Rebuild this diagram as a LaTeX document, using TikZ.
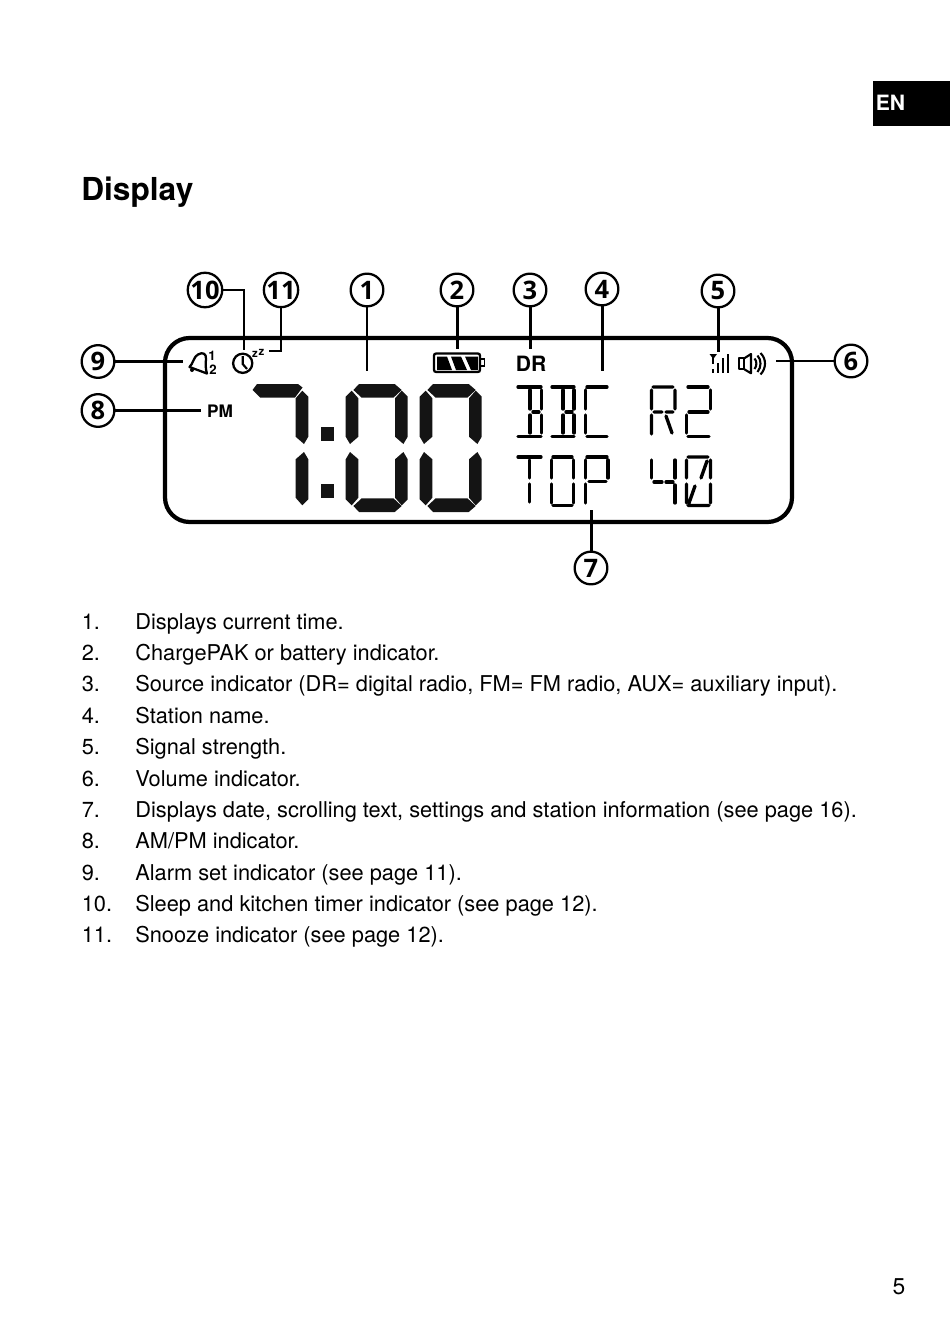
\documentclass[tikz,border=0pt]{standalone}
\usepackage{fontspec}
\setmainfont{TeX Gyre Heros}
\newfontfamily\callfont{Open Sans}
\tikzset{
  callout/.style={draw, circle, minimum size=18.6pt, inner sep=0pt, line width=1.3pt, font=\callfont\fontsize{14.5}{16}\selectfont\bfseries},
  lead/.style={line width=1.7pt},
  item/.style={anchor=base west, inner sep=0pt, font=\fontsize{12.4}{15}\selectfont},
  seg/.style={line width=1.9pt, line cap=round},
  vseg/.pic={\fill[black!92] (6,6.7)--(12.7,14.3)--(12.7,52.7)--(4.3,60)--(0,52.7)--(0,12.7)--cycle;},
  hseg/.pic={\fill[black!92] (7.7,6)--(13.3,0)--(49,0)--(56,6)--(47.7,13.7)--(16,13.7)--cycle;}
}
\begin{document}
\begin{tikzpicture}[x=0.02cm, y=-0.02cm]
\useasboundingbox (0,0) rectangle (950,1338);
% tab and heading
\fill[black] (873,81) rectangle (950,126);
\node[anchor=base west, inner sep=0pt, text=white, font=\fontsize{12}{14}\selectfont\bfseries] (tab) at (875.5,110.5) {EN};
\node[anchor=base west, inner sep=0pt, font=\fontsize{18}{20}\selectfont\bfseries] (title) at (81,201) {Display};
\node[anchor=base, inner sep=0pt, font=\fontsize{13}{15}\selectfont] (pagenum) at (899,1294) {5};
% display outline
\draw[line width=2.4pt, rounded corners=14pt] (165,338) rectangle (792,522);
% callouts
\node[callout] (C_10) at (205,290) {10};
\node[callout] (C_11) at (281,290) {11};
\node[callout] (C_1) at (367,290) {1};
\node[callout] (C_2) at (457,290) {2};
\node[callout] (C_3) at (530,290) {3};
\node[callout] (C_4) at (602,289) {4};
\node[callout] (C_5) at (718,291) {5};
\node[callout] (C_6) at (851,361) {6};
\node[callout] (C_7) at (591,568) {7};
\node[callout] (C_8) at (98,410.5) {8};
\node[callout] (C_9) at (98,361.5) {9};
\coordinate (E_10) at (244,350);
\coordinate (E_11) at (269,351);
\coordinate (E_1) at (367,371);
\coordinate (E_2) at (457,349);
\coordinate (E_3) at (530,349);
\coordinate (E_4) at (602,371);
\coordinate (E_5) at (718,352);
\coordinate (E_6) at (776,361);
\coordinate (E_7) at (591,510);
\coordinate (E_8) at (201,410.5);
\coordinate (E_9) at (183,361.5);
\draw[lead] (C_10) -| (E_10);
\draw[lead] (C_11) |- (E_11);
\draw[lead] (C_1) -- (E_1);
\draw[lead] (C_2) -- (E_2);
\draw[lead] (C_3) -- (E_3);
\draw[lead] (C_4) -- (E_4);
\draw[lead] (C_5) -- (E_5);
\draw[lead] (C_6) -- (E_6);
\draw[lead] (C_7) -- (E_7);
\draw[lead] (C_8) -- (E_8);
\draw[lead] (C_9) -- (E_9);
% indicators
\draw[line width=1.3pt, line join=round] (189.5,367) .. controls (193,364) and (194,356) .. (198,354.5) .. controls (203,351.5) and (206.5,354) .. (206,359) .. controls (205.5,364) and (205.5,369) .. (207,373.5) -- cycle;
\fill (192,370) circle (2);
\node[inner sep=0pt, font=\fontsize{7.5}{8}\selectfont\bfseries] (bell1) at (212,356) {1};
\node[inner sep=0pt, font=\fontsize{7.5}{8}\selectfont\bfseries] (bell2) at (213,370) {2};
\draw[line width=1.3pt] (242.7,363.3) circle (9.6);
\draw[line width=1.2pt] (242.7,356) -- (242.7,364) -- (247,369);
\node[inner sep=0pt, font=\fontsize{6.5}{7}\selectfont\bfseries] (zz1) at (255,354.5) {z};
\node[inner sep=0pt, font=\fontsize{6.5}{7}\selectfont\bfseries] (zz2) at (261.5,352) {z};
\node[inner sep=0pt, font=\fontsize{9.8}{11}\selectfont\bfseries] (pm) at (220,411.5) {PM};
\node[inner sep=0pt, font=\fontsize{12}{13}\selectfont\bfseries] (dr) at (531,364) {DR};
% battery
\draw[line width=1.3pt, rounded corners=1.2pt] (434,353.5) rectangle (480,372);
\draw[line width=1pt] (480,359) -- (484.5,359) -- (484.5,366) -- (480,366);
\fill (437,356.5) -- (447,356.5) -- (452,370) -- (437,370) -- cycle;
\fill (451,356.5) -- (461,356.5) -- (467,370) -- (456,370) -- cycle;
\fill (465,356.5) -- (478,356.5) -- (478,370) -- (471,370) -- cycle;
% signal and speaker
\fill (709.5,354) -- (717,354) -- (713.3,359) -- cycle;
\draw[line width=1.2pt] (713.3,356) -- (713.3,364);
\foreach \bx/\by in {713.3/369, 718.3/363, 723.3/358, 728.3/354}
  \draw[line width=1.2pt] (\bx,\by) -- (\bx,373);
\draw[line width=1.2pt, line join=round] (739.3,358.3) rectangle (744.3,369.3);
\draw[line width=1.2pt, line join=round] (744.3,358.3) -- (751,354) -- (751,373.3) -- (744.3,369.3);
\draw[line width=1.2pt] (754.5,358.5) .. controls (757,361) and (757,366) .. (754.5,369);
\draw[line width=1.2pt] (757.5,355.5) .. controls (761.5,360) and (761.5,367) .. (757.5,372);
\draw[line width=1.2pt] (760.5,353) .. controls (766.5,359) and (766.5,368) .. (760.5,374.5);
% big digits
\fill[black!92] (252.5,390) -- (257,384) -- (298,384) -- (302.5,387.5) -- (295,397.5) -- (260,397.5) -- cycle;
\pic[xscale=-1] at (308.3,384) {vseg};
\pic[xscale=-1,yscale=-1] at (308.3,512) {vseg};
\fill[black!92] (321,426.7) rectangle (334,440.7);
\fill[black!92] (321,484) rectangle (334,497.7);
\foreach \dx in {345.7,419.7}{
  \pic at (\dx,384) {hseg};
  \pic[yscale=-1] at (\dx,512) {hseg};
  \pic at (\dx,384) {vseg};
  \pic[yscale=-1] at (\dx,512) {vseg};
  \pic[xscale=-1] at (\dx+62,384) {vseg};
  \pic[xscale=-1,yscale=-1] at (\dx+62,512) {vseg};
}
% BBC R2
\draw[seg] (518,387)--(541,387) (518,436.5)--(541,436.5);
\draw[seg] (530,390)--(530,409) (530,415)--(530,433) (541.5,390)--(541.5,409) (541.5,415)--(541.5,433) (533,412)--(539,412);
\draw[seg] (552,387)--(574,387) (552,436.5)--(574,436.5);
\draw[seg] (563,390)--(563,409) (563,415)--(563,433) (574,390)--(574,409) (574,415)--(574,433) (566,412)--(572,412);
\draw[seg] (587,387)--(607,387) (587,436.5)--(607,436.5) (585.5,390)--(585.5,409) (585.5,415)--(585.5,433);
\draw[seg] (653,387)--(673,387) (651.5,390)--(651.5,409) (651.5,415)--(651.5,434) (675,390)--(675,409) (654,412)--(662,412) (666,412)--(673,412) (666,416)--(672,433);
\draw[seg] (688,387)--(708,387) (710.5,390)--(710.5,409) (689,412)--(708,412) (686.5,415)--(686.5,433) (688,436.5)--(709,436.5);
% TOP 40
\draw[seg] (518,457)--(541,457) (529.5,460)--(529.5,478) (529.5,484)--(529.5,502);
\draw[seg] (553,457)--(572,457) (551.5,460)--(551.5,478) (551.5,484)--(551.5,503) (573.5,460)--(573.5,478) (573.5,484)--(573.5,503) (553,505.5)--(572,505.5);
\draw[seg] (587,457)--(607,457) (585.5,460)--(585.5,478) (585.5,484)--(585.5,503) (608,460)--(608,478) (589,481.5)--(606,481.5);
\draw[seg] (651.5,460)--(651.5,478) (654,482)--(662,482) (666,482)--(673,482) (675,460)--(675,478) (675,485)--(675,503);
\draw[seg] (688,457)--(708,457) (686.5,460)--(686.5,478) (686.5,484)--(686.5,503) (710.5,460)--(710.5,478) (710.5,484)--(710.5,503) (688,505.5)--(709,505.5) (707,461)--(701,478) (695,486)--(689,503);
% list
\node[item] (n1) at (81.5,629) {1.};
\node[item] (t1) at (135,629) {Displays current time.};
\node[item] (n2) at (81.5,660.6) {2.};
\node[item] (t2) at (135,660.6) {ChargePAK or battery indicator.};
\node[item] (n3) at (81.5,691.9) {3.};
\node[item] (t3) at (135,691.9) {Source indicator (DR= digital radio, FM= FM radio, AUX= auxiliary input).};
\node[item] (n4) at (81.5,723.3) {4.};
\node[item] (t4) at (135,723.3) {Station name.};
\node[item] (n5) at (81.5,754.6) {5.};
\node[item] (t5) at (135,754.6) {Signal strength.};
\node[item] (n6) at (81.5,786) {6.};
\node[item] (t6) at (135,786) {Volume indicator.};
\node[item] (n7) at (81.5,817.3) {7.};
\node[item] (t7) at (135,817.3) {Displays date, scrolling text, settings and station information (see page 16).};
\node[item] (n8) at (81.5,848.7) {8.};
\node[item] (t8) at (135,848.7) {AM/PM indicator.};
\node[item] (n9) at (81.5,880) {9.};
\node[item] (t9) at (135,880) {Alarm set indicator (see page 11).};
\node[item] (n10) at (81.5,911.3) {10.};
\node[item] (t10) at (135,911.3) {Sleep and kitchen timer indicator (see page 12).};
\node[item] (n11) at (81.5,942.7) {11.};
\node[item] (t11) at (135,942.7) {Snooze indicator (see page 12).};
\end{tikzpicture}
\end{document}
